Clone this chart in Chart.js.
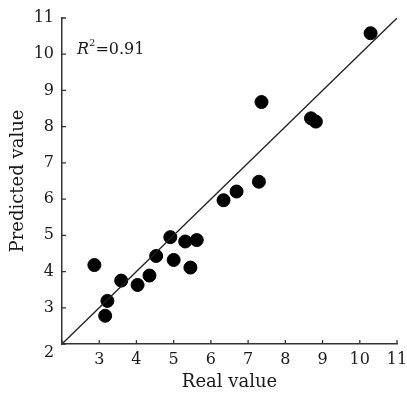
<!DOCTYPE html>
<html>
<head>
<meta charset="utf-8">
<script src="https://cdn.jsdelivr.net/npm/chart.js@4"></script>
<style>
  html, body { margin: 0; padding: 0; background: #fff; }
  #wrap { width: 407px; height: 393px; }
</style>
</head>
<body>
<div id="wrap"><canvas id="chart" width="407" height="393"></canvas></div>
<script>
// measured vs predicted values
var realValues = [2.87, 3.22, 3.16, 3.59, 4.03, 4.35, 4.53, 4.91, 5.00, 5.31, 5.62, 5.45, 6.34, 6.69, 7.29, 7.36, 8.69, 8.82, 10.29];
var predictedValues = [4.18, 3.19, 2.78, 3.75, 3.63, 3.89, 4.43, 4.95, 4.32, 4.83, 4.87, 4.11, 5.97, 6.21, 6.48, 8.68, 8.23, 8.14, 10.58];
var tickValues = [2, 3, 4, 5, 6, 7, 8, 9, 10, 11];
var fitLine = [2, 11];
var r2Text = "0.91";

var serif = "'DejaVu Serif', 'Liberation Serif', serif";

var points = [];
for (var i = 0; i < realValues.length; i++) {
    points.push({x: realValues[i], y: predictedValues[i]});
}

// inward ticks, shared "2" at origin and the R^2 note
var extras = {
    id: 'extras',
    afterDraw: function(chart) {
        var ctx = chart.ctx;
        var xs = chart.scales.x, ys = chart.scales.y;
        var area = chart.chartArea;
        ctx.save();
        ctx.strokeStyle = '#333';
        ctx.lineWidth = 1.3;
        ctx.beginPath();
        for (var i = 0; i < tickValues.length; i++) {
            var px = xs.getPixelForValue(tickValues[i]);
            ctx.moveTo(px, area.bottom);
            ctx.lineTo(px, area.bottom - 4);
            var py = ys.getPixelForValue(tickValues[i]);
            ctx.moveTo(area.left, py);
            ctx.lineTo(area.left + 4, py);
        }
        ctx.stroke();

        ctx.fillStyle = '#1a1a1a';
        ctx.font = '16px ' + serif;
        ctx.textAlign = 'center';
        ctx.textBaseline = 'middle';
        ctx.fillText('2', area.left - 13, area.bottom + 9);

        // R^2 label
        var x0 = area.left + 15, y0 = area.top + 30;
        ctx.textAlign = 'left';
        ctx.textBaseline = 'alphabetic';
        ctx.font = 'italic 16px ' + serif;
        ctx.fillText('R', x0, y0 + 6);
        var w = ctx.measureText('R').width;
        ctx.font = '10px ' + serif;
        ctx.fillText('2', x0 + w, y0 - 2);
        var w2 = ctx.measureText('2').width;
        ctx.font = '16px ' + serif;
        ctx.fillText('=' + r2Text, x0 + w + w2, y0 + 6);
        ctx.restore();
    }
};

new Chart(document.getElementById('chart'), {
    type: 'scatter',
    data: {
        datasets: [{
            type: 'line',
            data: [{x: fitLine[0], y: fitLine[0]}, {x: fitLine[1], y: fitLine[1]}],
            borderColor: '#222',
            borderWidth: 1.3,
            pointRadius: 0,
            fill: false
        }, {
            data: points,
            backgroundColor: '#000',
            borderColor: '#000',
            pointRadius: 6.5,
            pointHoverRadius: 6.5
        }]
    },
    options: {
        responsive: false,
        animation: false,
        events: [],
        layout: { padding: { left: 8, right: 0, top: 18, bottom: 0 } },
        plugins: { legend: { display: false }, tooltip: { enabled: false } },
        scales: {
            x: {
                type: 'linear',
                min: 2, max: 11,
                afterBuildTicks: function(scale) {
                    scale.ticks = tickValues.map(function(v) { return {value: v}; });
                },
                afterFit: function(scale) { scale.height = 49; scale.paddingRight = 10; },
                grid: { display: false, drawTicks: false },
                border: { display: true, color: '#333', width: 1.5 },
                ticks: {
                    padding: 6,
                    color: '#1a1a1a',
                    font: { family: serif, size: 16 },
                    maxRotation: 0,
                    callback: function(v) { return v === 2 ? '' : v; }
                },
                title: {
                    display: true,
                    text: 'Real value',
                    color: '#1a1a1a',
                    font: { family: serif, size: 18 },
                    padding: { top: 0, bottom: 0 }
                }
            },
            y: {
                type: 'linear',
                min: 2, max: 11,
                afterBuildTicks: function(scale) {
                    scale.ticks = tickValues.map(function(v) { return {value: v}; });
                },
                afterFit: function(scale) { scale.width = 54; },
                grid: { display: false, drawTicks: false },
                border: { display: true, color: '#333', width: 1.5 },
                ticks: {
                    padding: 8,
                    color: '#1a1a1a',
                    font: { family: serif, size: 16 },
                    callback: function(v) { return v === 2 ? '' : v; }
                },
                title: {
                    display: true,
                    text: 'Predicted value',
                    color: '#1a1a1a',
                    font: { family: serif, size: 18 },
                    padding: { top: 0, bottom: 0 }
                }
            }
        }
    },
    plugins: [extras]
});
</script>
</body>
</html>
